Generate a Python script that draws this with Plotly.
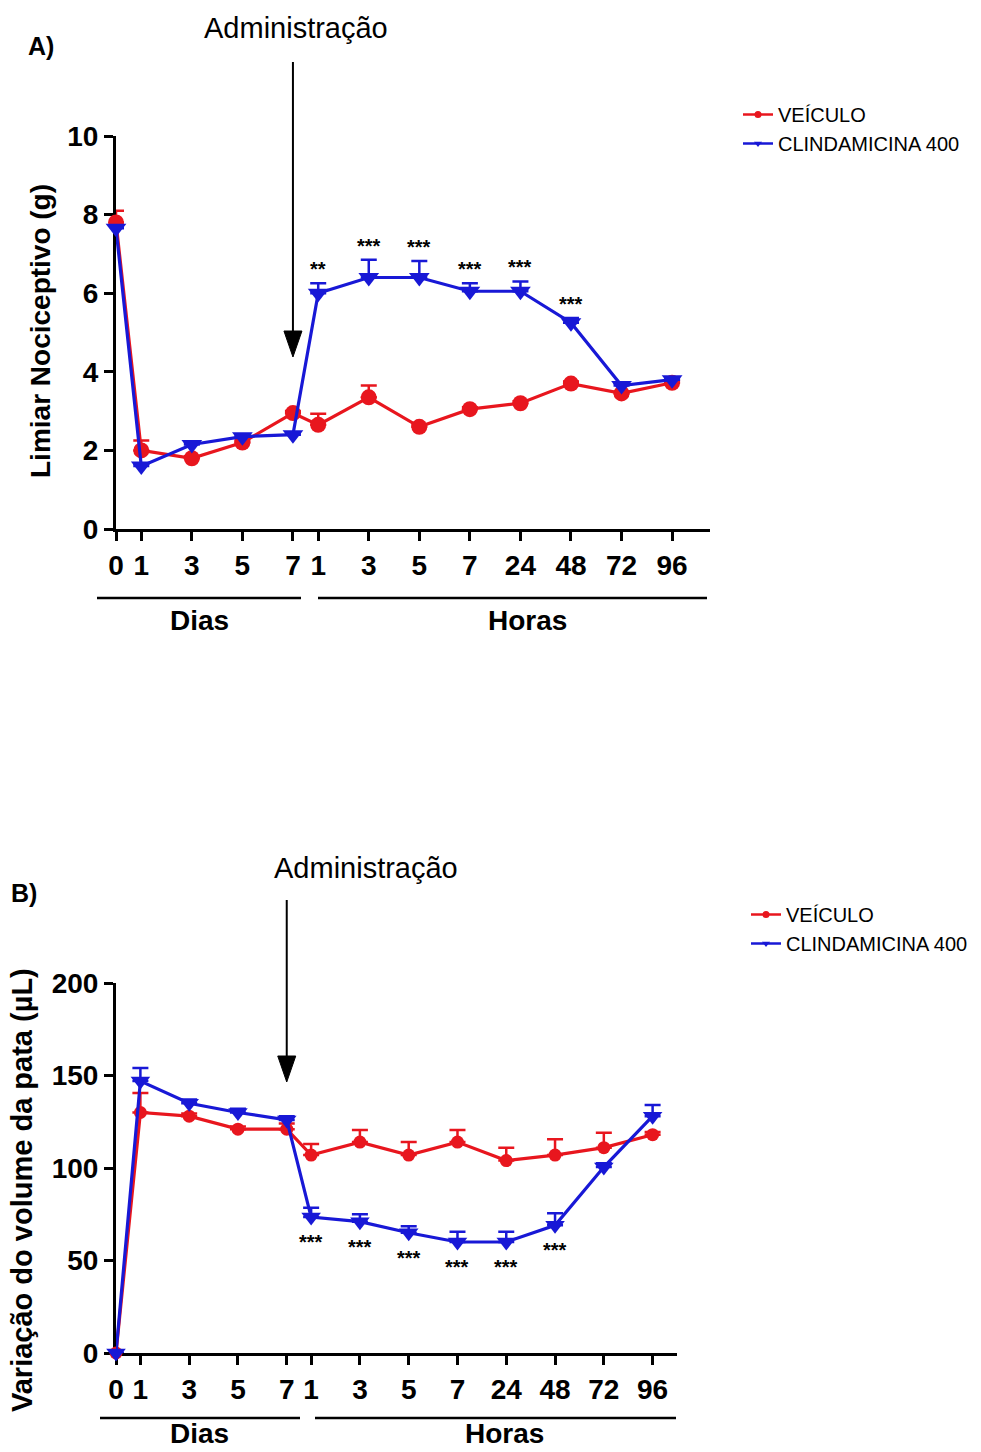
import plotly.graph_objects as go

W, H = 981, 1452

# ---------------- data ----------------
x_pos = [0, 1, 3, 5, 7, 8, 10, 12, 14, 16, 18, 20, 22]
x_labels = ["0", "1", "3", "5", "7", "1", "3", "5", "7", "24", "48", "72", "96"]
series_names = ["VEÍCULO", "CLINDAMICINA 400"]

# Panel A - Limiar Nociceptivo (g)
A_veiculo = [7.8, 2.0, 1.8, 2.2, 2.95, 2.65, 3.35, 2.6, 3.05, 3.2, 3.7, 3.45, 3.72]
A_veiculo_err = [0.3, 0.25, 0.05, 0.05, 0.05, 0.28, 0.3, 0.05, 0.05, 0.05, 0.05, 0.05, 0.05]
A_clinda = [7.65, 1.6, 2.15, 2.35, 2.4, 6.0, 6.4, 6.4, 6.05, 6.05, 5.25, 3.65, 3.8]
A_clinda_err = [0.05, 0.05, 0.05, 0.05, 0.05, 0.25, 0.45, 0.42, 0.2, 0.25, 0.12, 0.05, 0.05]
A_sig = ["", "", "", "", "", "**", "***", "***", "***", "***", "***", "", ""]

# Panel B - Variação do volume da pata (µL)
B_veiculo = [0, 130, 128, 121, 121, 107, 114, 107, 114, 104, 107, 111, 118]
B_veiculo_err = [0, 10.5, 1.5, 1.5, 3, 6, 6.5, 7, 6.5, 7, 8.5, 8, 1.5]
B_clinda = [0, 147, 135, 130, 126, 73.5, 71, 65, 60, 60, 69, 100.5, 128]
B_clinda_err = [0, 7, 2, 2, 2, 5, 4, 3.5, 5.5, 5.5, 6.5, 2, 6]
B_sig = ["", "", "", "", "", "***", "***", "***", "***", "***", "***", "", ""]

RED = "#e8161e"
BLUE = "#1818d6"
FONT = "Liberation Sans, Arial, sans-serif"


def px(x):
    return x / W


def py(y):
    return 1 - y / H


fig = go.Figure()

panels = [
    dict(xa="x", ya="y", veh=A_veiculo, veh_err=A_veiculo_err, cli=A_clinda, cli_err=A_clinda_err,
         ms_c=16, ms_t=18, legend="legend"),
    dict(xa="x2", ya="y2", veh=B_veiculo, veh_err=B_veiculo_err, cli=B_clinda, cli_err=B_clinda_err,
         ms_c=13, ms_t=17, legend="legend2"),
]

for p in panels:
    fig.add_trace(go.Scatter(
        x=x_pos, y=p["veh"], xaxis=p["xa"], yaxis=p["ya"], mode="lines+markers",
        line=dict(color=RED, width=3.2), marker=dict(symbol="circle", size=p["ms_c"], color=RED),
        error_y=dict(type="data", array=p["veh_err"], arrayminus=[0] * len(x_pos), symmetric=False,
                     color=RED, thickness=2.5, width=8),
        cliponaxis=False, showlegend=False))
    fig.add_trace(go.Scatter(
        x=x_pos, y=p["cli"], xaxis=p["xa"], yaxis=p["ya"], mode="lines+markers",
        line=dict(color=BLUE, width=3.2), marker=dict(symbol="triangle-down", size=p["ms_t"], color=BLUE),
        error_y=dict(type="data", array=p["cli_err"], arrayminus=[0] * len(x_pos), symmetric=False,
                     color=BLUE, thickness=2.5, width=8),
        cliponaxis=False, showlegend=False))
    # legend entries
    fig.add_trace(go.Scatter(
        x=[None], y=[None], xaxis=p["xa"], yaxis=p["ya"], mode="lines+markers", name=series_names[0],
        line=dict(color=RED, width=2.5), marker=dict(symbol="circle", size=7, color=RED),
        legend=p["legend"], legendgroup="a" + p["legend"]))
    fig.add_trace(go.Scatter(
        x=[None], y=[None], xaxis=p["xa"], yaxis=p["ya"], mode="lines+markers", name=series_names[1],
        line=dict(color=BLUE, width=2.5), marker=dict(symbol="triangle-down", size=7, color=BLUE),
        legend=p["legend"], legendgroup="b" + p["legend"]))

axis_common = dict(showline=True, linewidth=3, linecolor="black", ticks="outside", ticklen=9,
                   tickwidth=3, tickcolor="black", showgrid=False, zeroline=False, automargin=False,
                   tickfont=dict(family=FONT, size=28, color="black", weight="bold"),
                   layer="below traces")

fig.update_layout(
    width=W, height=H, margin=dict(l=0, r=0, t=0, b=0, pad=0, autoexpand=False),
    paper_bgcolor="white", plot_bgcolor="white",
    xaxis=dict(domain=[px(116), px(710)], range=[0, 23.5], anchor="y",
               tickmode="array", tickvals=x_pos, ticktext=x_labels, **axis_common),
    yaxis=dict(domain=[py(529), py(136)], range=[0, 10], anchor="x",
               tickmode="array", tickvals=[0, 2, 4, 6, 8, 10], **axis_common),
    xaxis2=dict(domain=[px(116), px(677)], range=[0, 23], anchor="y2",
                tickmode="array", tickvals=x_pos, ticktext=x_labels, **axis_common),
    yaxis2=dict(domain=[py(1353), py(983)], range=[0, 200], anchor="x2",
                tickmode="array", tickvals=[0, 50, 100, 150, 200], **axis_common),
    legend=dict(x=px(738), y=py(95), xanchor="left", yanchor="top", tracegroupgap=0,
                font=dict(family=FONT, size=20, color="black"), bgcolor="rgba(0,0,0,0)"),
    legend2=dict(x=px(746), y=py(895), xanchor="left", yanchor="top", tracegroupgap=0,
                 font=dict(family=FONT, size=20, color="black"), bgcolor="rgba(0,0,0,0)"),
)

annotations = []
shapes = []

SIG_FONT = dict(family=FONT, size=20, color="black", weight="bold")
# significance marks
for xv, yv, ev, s in zip(x_pos, A_clinda, A_clinda_err, A_sig):
    if s:
        annotations.append(dict(x=xv, y=yv + ev, xref="x", yref="y", text=s, showarrow=False,
                                xanchor="center", yanchor="bottom", yshift=1, font=SIG_FONT))
for xv, yv, s in zip(x_pos, B_clinda, B_sig):
    if s:
        annotations.append(dict(x=xv, y=yv, xref="x2", yref="y2", text=s, showarrow=False,
                                xanchor="center", yanchor="top", yshift=-12, font=SIG_FONT))

# panel labels, arrows, titles
panel_text = [
    dict(label="A)", lab_xy=(41, 46), adm_xy=(296, 28), arrow_x=7, arrow_top=62, arrow_tip=357,
         xref="x", ytitle="Limiar Nociceptivo (g)", ytitle_xy=(40, 331), ysize=28,
         bar_y=598, dias=(97, 301), horas=(318, 707), text_y=620, dias_x=199, horas_x=527),
    dict(label="B)", lab_xy=(24, 893), adm_xy=(366, 868), arrow_x=7, arrow_top=900, arrow_tip=1082,
         xref="x2", ytitle="Variação do volume da pata (µL)", ytitle_xy=(22, 1190), ysize=29,
         bar_y=1418, dias=(100, 300), horas=(315, 676), text_y=1433, dias_x=199, horas_x=505),
]


def note(xy, text, size, bold=False, angle=0):
    f = dict(family=FONT, size=size, color="black")
    if bold:
        f["weight"] = "bold"
    return dict(x=px(xy[0]), y=py(xy[1]), xref="paper", yref="paper", text=text, showarrow=False,
                xanchor="center", yanchor="middle", textangle=angle, font=f)


for t in panel_text:
    annotations.append(note(t["lab_xy"], t["label"], 25, bold=True))
    annotations.append(note(t["adm_xy"], "Administração", 29))
    annotations.append(note(t["ytitle_xy"], t["ytitle"], t["ysize"], bold=True, angle=-90))
    annotations.append(note((t["dias_x"], t["text_y"]), "Dias", 28, bold=True))
    annotations.append(note((t["horas_x"], t["text_y"]), "Horas", 28, bold=True))
    # group bars
    for a, b in (t["dias"], t["horas"]):
        shapes.append(dict(type="line", xref="paper", yref="paper", x0=px(a), x1=px(b),
                           y0=py(t["bar_y"]), y1=py(t["bar_y"]), line=dict(color="black", width=2.5)))
    # arrow shaft
    shapes.append(dict(type="line", xref=t["xref"], yref="paper", x0=t["arrow_x"], x1=t["arrow_x"],
                       y0=py(t["arrow_top"]), y1=py(t["arrow_tip"] - 20), line=dict(color="black", width=2)))
    # arrow head
    shapes.append(dict(type="path", xref=t["xref"], yref="paper", xsizemode="pixel", ysizemode="pixel",
                       xanchor=t["arrow_x"], yanchor=py(t["arrow_tip"]),
                       path="M -9 26 L 9 26 L 0 0 Z", fillcolor="black", line=dict(color="black", width=1)))

fig.update_layout(annotations=annotations, shapes=shapes)

fig.write_html("out.html", config={"displayModeBar": False},
               post_script="document.body.style.margin='0';")
